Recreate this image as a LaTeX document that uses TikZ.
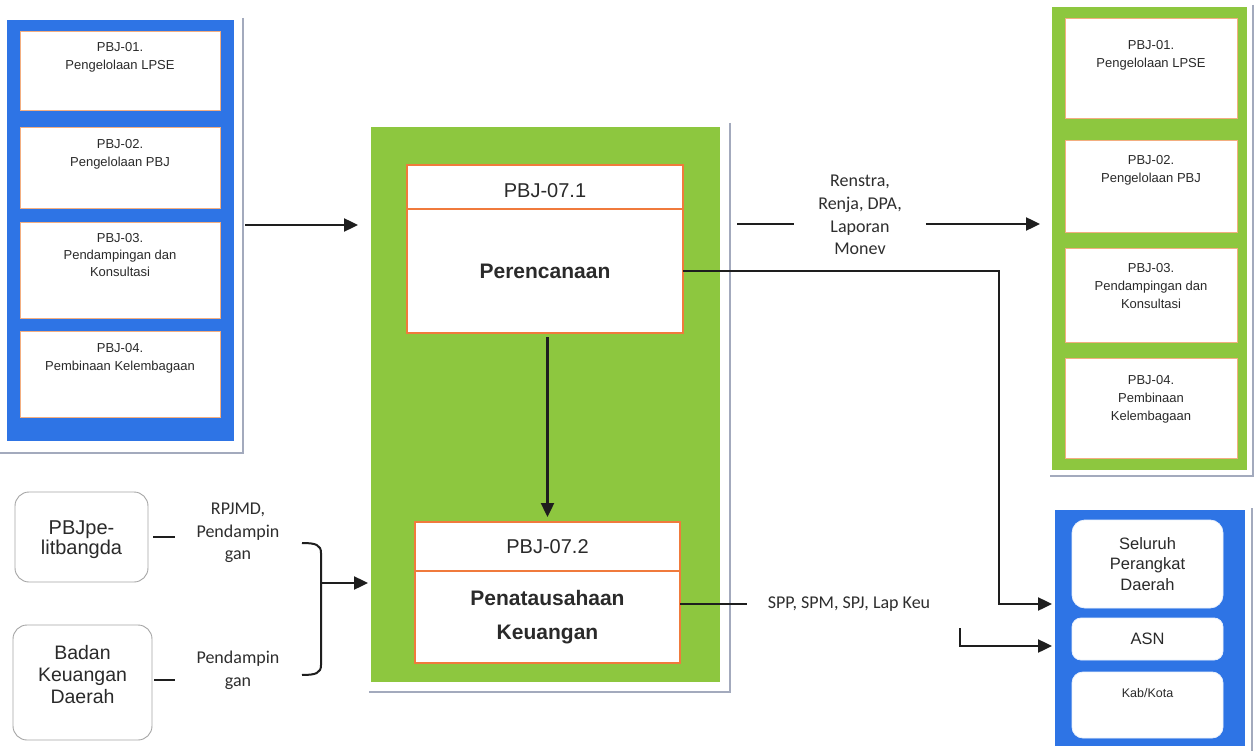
\documentclass[tikz,border=0pt]{standalone}
\usepackage{fontspec}
\setmainfont{Liberation Sans}
\newfontfamily\calfont{Carlito}
\usetikzlibrary{arrows.meta,calc}
\definecolor{pblue}{HTML}{2E74E5}
\definecolor{pgreen}{HTML}{8DC73F}
\definecolor{peach}{HTML}{F3AE80}
\definecolor{orng}{HTML}{F07A3C}
\definecolor{shad}{HTML}{A3AABD}
\definecolor{txt}{HTML}{2A2A2A}
\definecolor{rbord}{HTML}{A5A5A5}
\definecolor{lnc}{HTML}{1E1E1E}
\begin{document}
\begin{tikzpicture}[x=1pt,y=-1pt,
  panelbox/.style={inner sep=0pt, outer sep=0pt},
  shadowline/.style={draw=shad, line width=1.1pt},
  smallbox/.style={draw=peach, line width=0.9pt, fill=white, inner sep=0pt, outer sep=0pt},
  toplbl/.style={anchor=north, yshift=-#1, align=center, inner sep=0pt,
    font=\fontsize{13}{18}\selectfont, text=txt},
  midlbl/.style={anchor=center, yshift=#1, align=center, inner sep=0pt, text=txt},
  mainbox/.style={draw=orng, line width=1.6pt, fill=white, inner sep=0pt, outer sep=0pt, text=txt},
  roundbox/.style={draw=rbord, line width=0.9pt, fill=white, rounded corners=14pt, inner sep=0pt, outer sep=0pt, text=txt},
  whiteround/.style={draw=white!90!pblue, line width=0.8pt, fill=white, inner sep=0pt, outer sep=0pt, text=txt},
  flowlbl/.style={align=center, inner ysep=0pt, text=black!82, font=\calfont\fontsize{18}{22.7}\selectfont},
  ln/.style={draw=lnc, line width=2.4pt},
  arr/.style={draw=lnc, line width=2.4pt, -{Triangle[length=14pt,width=13pt]}}
]
\useasboundingbox (0,0) rectangle (1258,751);
\fill[white] (0,0) rectangle (1258,751);

% ---------- left blue panel ----------
\node[panelbox, fill=pblue, minimum width=227pt, minimum height=421pt] (lp) at (120.5,230.5) {};
\draw[shadowline] ([xshift=9pt,yshift=2pt]lp.north east) -- ([xshift=9pt,yshift=-12pt]lp.south east) -- ([xshift=-7pt,yshift=-12pt]lp.south west);
\node[smallbox, minimum width=200pt, minimum height=79pt,
  label={[toplbl=11pt]north:PBJ-01.\\Pengelolaan LPSE}] (l1) at (120,70.5) {};
\node[smallbox, minimum width=200pt, minimum height=81pt,
  label={[toplbl=12pt]north:PBJ-02.\\Pengelolaan PBJ}] (l2) at (120,167.5) {};
\node[smallbox, minimum width=200pt, minimum height=96pt,
  label={[toplbl=11pt,font=\fontsize{13}{17}\selectfont]north:PBJ-03.\\Pendampingan dan\\Konsultasi}] (l3) at (120,270) {};
\node[smallbox, minimum width=200pt, minimum height=86pt,
  label={[toplbl=12pt]north:PBJ-04.\\Pembinaan Kelembagaan}] (l4) at (120,374) {};

% ---------- centre green panel ----------
\node[panelbox, fill=pgreen, minimum width=349pt, minimum height=555pt] (gp) at (545.5,404.5) {};
\draw[shadowline] ([xshift=10pt,yshift=4pt]gp.north east) -- ([xshift=10pt,yshift=-10pt]gp.south east) -- ([xshift=-2pt,yshift=-10pt]gp.south west);
\node[mainbox, minimum width=276pt, minimum height=44pt,
  font=\fontsize{20}{24}\selectfont] (p1h) at (545,187)
  {\raisebox{0pt}[\dimexpr\height+8pt\relax][\depth]{PBJ-07.1}};
\node[mainbox, minimum width=276pt, minimum height=124pt,
  font=\bfseries\fontsize{21}{25}\selectfont] (p1) at (545,271) {Perencanaan};
\node[mainbox, minimum width=265pt, minimum height=49pt,
  font=\fontsize{20}{24}\selectfont] (p2h) at (547.5,546.5) {PBJ-07.2};
\node[mainbox, minimum width=265pt, minimum height=92pt, align=center,
  font=\bfseries\fontsize{21}{34}\selectfont] (p2) at (547.5,617) {Penatausahaan\\Keuangan};

% ---------- right green panel ----------
\node[panelbox, fill=pgreen, minimum width=195pt, minimum height=463pt] (rg) at (1149.5,238.5) {};
\draw[shadowline] ([xshift=6pt,yshift=2pt]rg.north east) -- ([xshift=6pt,yshift=-6pt]rg.south east) -- ([xshift=-2pt,yshift=-6pt]rg.south west);
\node[smallbox, minimum width=172pt, minimum height=100pt,
  label={[toplbl=22pt]north:PBJ-01.\\Pengelolaan LPSE}] (r1b) at (1151,68) {};
\node[smallbox, minimum width=172pt, minimum height=92pt,
  label={[toplbl=15pt]north:PBJ-02.\\Pengelolaan PBJ}] (r2b) at (1151,186) {};
\node[smallbox, minimum width=172pt, minimum height=94pt,
  label={[toplbl=15pt]north:PBJ-03.\\Pendampingan dan\\Konsultasi}] (r3b) at (1151,295) {};
\node[smallbox, minimum width=172pt, minimum height=100pt,
  label={[toplbl=17pt]north:PBJ-04.\\Pembinaan\\Kelembagaan}] (r4b) at (1151,408) {};

% ---------- right blue panel ----------
\node[panelbox, fill=pblue, minimum width=190pt, minimum height=236pt] (bp) at (1150,628) {};
\draw[shadowline] ([xshift=7pt,yshift=2pt]bp.north east) -- ([xshift=7pt,yshift=-5pt]bp.south east);
\node[whiteround, rounded corners=13pt, minimum width=151pt, minimum height=88pt, align=center,
  font=\fontsize{16.5}{20.5}\selectfont] (sel) at (1147.5,564) {Seluruh\\Perangkat\\Daerah};
\node[whiteround, rounded corners=9pt, minimum width=151pt, minimum height=42pt,
  font=\fontsize{16.5}{20}\selectfont] (asn) at (1147.5,639) {ASN};
\node[whiteround, rounded corners=11pt, minimum width=151pt, minimum height=66pt,
  font=\fontsize{12.5}{15}\selectfont] (kab) at (1147.5,705)
  {\raisebox{0pt}[\height][\dimexpr\depth+24pt\relax]{Kab/Kota}};

% ---------- left bottom boxes ----------
\node[roundbox, minimum width=133pt, minimum height=90pt,
  label={[midlbl=-3pt, font=\fontsize{20}{20}\selectfont]center:PBJpe-\\litbangda}] (pb) at (81.5,537) {};
\node[roundbox, minimum width=139pt, minimum height=115pt,
  label={[midlbl=7.5pt, font=\fontsize{19.5}{22}\selectfont]center:Badan\\Keuangan\\Daerah}] (bk) at (82.5,682.5) {};

% ---------- connector labels ----------
\node[flowlbl, inner xsep=24pt] (lab1) at (860,215) {Renstra,\\Renja, DPA,\\Laporan\\Monev};
\node[flowlbl, inner xsep=21pt] (spp) at (849,604) {SPP, SPM, SPJ, Lap Keu};
\node[flowlbl, inner xsep=21pt] (lab2) at (238,533) {RPJMD,\\Pendampin\\gan};
\node[flowlbl, inner xsep=21pt] (lab3) at (238,670) {Pendampin\\gan};

% ---------- connectors ----------
\coordinate (r0) at (737,224);
\coordinate (c1) at (999,604);
\coordinate (c2) at (960,628);
\coordinate (bt) at (302,543);
\coordinate (bb) at (302,675);
\coordinate (bm) at (321,583);

\draw[arr, shorten >=13pt] ([xshift=11pt,yshift=5.5pt]lp.east) -- (gp.west |- 0,225);
\draw[arr, shorten <=4pt, shorten >=5pt] (p2h.north |- p1.south) -- (p2h.north);
\draw[ln] (r0) -- (lab1.west |- r0);
\draw[arr, shorten >=12pt] (lab1.east |- r0) -- (rg.west |- r0);
\draw[arr, shorten >=3pt] (p1.east) -| (c1) -- (bp.west |- c1);
\draw[ln] ([yshift=13pt]p2.east) -- (spp.west);
\draw[arr, shorten >=3pt] (c2) |- (bp.west |- 0,646);
\draw[ln, shorten <=5pt] (pb.east) -- (lab2.west |- pb.east);
\draw[ln, shorten <=2pt] (bk.east |- 0,680) -- (lab3.west |- 0,680);
\draw[ln, line width=2pt] (bt) .. controls (316,543) and (321,545) .. (321,553) -- (321,665) .. controls (321,673) and (316,675) .. (bb);
\draw[arr, shorten >=3pt] (bm) -- (gp.west |- bm);
\end{tikzpicture}
\end{document}
